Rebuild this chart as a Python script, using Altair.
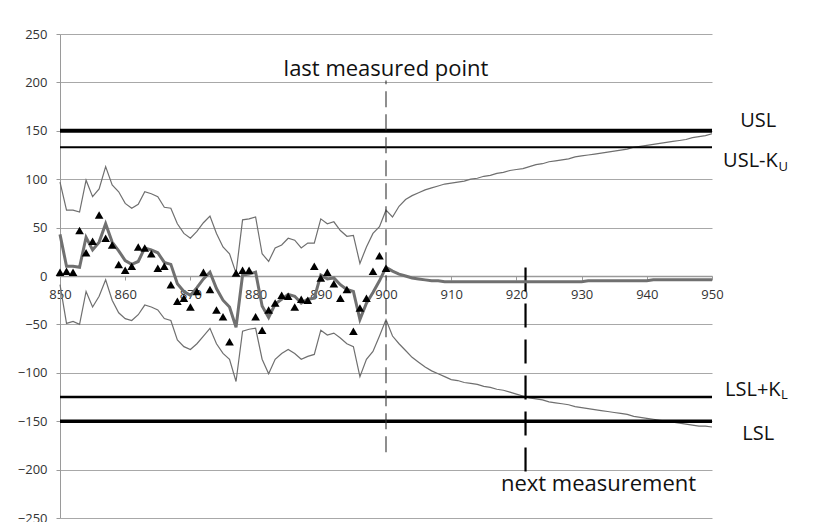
import altair as alt
import pandas as pd

# ---------------- data ----------------
X_MEAS = list(range(850, 901))
MEASURED = [4, 5, 4, 47, 24, 36, 63, 39, 32, 12,
            6, 10, 30, 29, 23, 8, 10, -9, -26, -23,
            -32, -16, 4, -14, -35, -42, -68, 3, 6, 6,
            -42, -56, -35, -28, -20, -21, -32, -24, -25, 10,
            -2, 4, -8, -23, -14, -57, -33, -23, 5, 21, 8]

X_ALL = list(range(850, 951))
CENTER = [43, 10, 10, 9, 40, 27, 35, 54, 35, 26,
          16, 12, 15, 29, 27, 24, 14, 12, -8, -16,
          -20, -12, -3, 4, -13, -25, -32, -53, 1, 2,
          4, -31, -43, -29, -24, -19, -21, -28, -24, -23,
          1, -3, -2, -9, -14, -16, -45, -28, -17, -5, 9,
          5, 2, 0, -2, -3, -4, -5, -5, -6, -6,
          -6, -6, -6, -6, -6, -6, -6, -6, -6, -6,
          -6, -6, -6, -6, -6, -6, -6, -6, -6, -6,
          -5, -5, -5, -5, -5, -5, -5, -5, -5, -5,
          -4, -4, -4, -4, -4, -4, -4, -4, -4, -4]
UPPER = [97, 68, 68, 66, 99, 82, 90, 113, 94, 87,
         75, 70, 74, 87, 85, 82, 71, 70, 54, 44,
         39, 46, 55, 62, 44, 30, 23, 3, 58, 59,
         61, 23, 15, 29, 32, 39, 37, 29, 34, 34,
         59, 54, 56, 47, 41, 42, 13, 30, 44, 51, 68,
         61, 72, 79, 83, 86, 89, 91, 93, 95, 96,
         97, 98, 100, 101, 103, 104, 106, 107, 109, 110,
         111, 113, 115, 116, 118, 119, 120, 121, 123, 124,
         125, 126, 127, 128, 129, 130, 131, 133, 134, 135,
         136, 137, 138, 139, 140, 141, 143, 144, 145, 147]
LOWER = [-9, -49, -47, -50, -16, -32, -21, -4, -25, -38,
         -44, -46, -40, -30, -32, -35, -44, -46, -66, -73,
         -76, -70, -62, -54, -70, -80, -86, -109, -57, -55,
         -54, -86, -101, -86, -80, -76, -80, -86, -83, -81,
         -56, -61, -59, -64, -70, -73, -104, -86, -78, -62, -45,
         -62, -70, -77, -84, -89, -94, -98, -101, -104, -107,
         -108, -110, -111, -112, -114, -115, -117, -118, -120, -122,
         -124, -126, -127, -128, -130, -131, -132, -133, -135, -136,
         -137, -138, -139, -140, -141, -142, -143, -145, -146, -147,
         -148, -149, -150, -151, -152, -153, -154, -155, -155, -156]

LIMIT_VALUES = [150, 133, -125, -150]   # USL, USL-KU, LSL+KL, LSL
LAST_MEASURED_X = 900
NEXT_MEASUREMENT_X = 921.4
X_TICKS = [850, 860, 870, 880, 890, 900, 910, 920, 930, 940, 950]
Y_TICKS = [-250, -200, -150, -100, -50, 0, 50, 100, 150, 200, 250]

# ---------------- chart ----------------
FONT = "Open Sans"
xs = alt.Scale(domain=[850, 950], nice=False, zero=False)
ys = alt.Scale(domain=[-250, 250], nice=False, zero=False)

all_df = pd.DataFrame({"x": X_ALL, "center": CENTER, "upper": UPPER, "lower": LOWER})
meas_df = pd.DataFrame({"x": X_MEAS, "m": MEASURED})

x_axis = alt.Axis(values=X_TICKS, offset=-242, grid=False, title=None,
                  domainColor="#9a9a9a", domainWidth=1.5, tickColor="#9a9a9a",
                  tickSize=4, labelFont=FONT, labelFontSize=13, labelColor="#333333",
                  labelPadding=8, labelFlush=False)
y_axis = alt.Axis(values=Y_TICKS, grid=True, gridColor="#a8a8a8", gridWidth=1,
                  title=None, domainColor="#9a9a9a", tickColor="#9a9a9a", tickSize=4,
                  labelFont=FONT, labelFontSize=13, labelColor="#333333",
                  labelPadding=9, labelFlush=False)

base = alt.Chart(all_df)

upper_line = base.mark_line(color="#6f6f6f", strokeWidth=1.2).encode(
    x=alt.X("x:Q", scale=xs, axis=x_axis),
    y=alt.Y("upper:Q", scale=ys, axis=y_axis))
lower_line = base.mark_line(color="#6f6f6f", strokeWidth=1.2).encode(
    x=alt.X("x:Q", scale=xs), y=alt.Y("lower:Q", scale=ys))
center_line = base.mark_line(color="#707070", strokeWidth=3).encode(
    x=alt.X("x:Q", scale=xs), y=alt.Y("center:Q", scale=ys))

points = alt.Chart(meas_df).mark_point(shape="triangle-up", filled=True,
                                       color="#000000", size=75, opacity=1).encode(
    x=alt.X("x:Q", scale=xs), y=alt.Y("m:Q", scale=ys))

limit_widths = [4, 2, 2.5, 3.5]
limit_layers = []
for val, w in zip(LIMIT_VALUES, limit_widths):
    limit_layers.append(
        alt.Chart(pd.DataFrame({"y": [val]})).mark_rule(color="#000000", strokeWidth=w)
        .encode(y=alt.Y("y:Q", scale=ys)))

last_rule = alt.Chart(pd.DataFrame({"x": [LAST_MEASURED_X], "y1": [-182], "y2": [202]})).mark_rule(
    color="#333333", strokeWidth=1.1, strokeDash=[16, 7]).encode(
    x=alt.X("x:Q", scale=xs), y=alt.Y("y1:Q", scale=ys), y2="y2:Q")
next_rule = alt.Chart(pd.DataFrame({"x": [NEXT_MEASUREMENT_X], "y1": [-202], "y2": [18]})).mark_rule(
    color="#000000", strokeWidth=2.2, strokeDash=[24, 12]).encode(
    x=alt.X("x:Q", scale=xs), y=alt.Y("y1:Q", scale=ys), y2="y2:Q")


def label(text, x, y, size, align="center"):
    return alt.Chart(pd.DataFrame({"x": [x], "y": [y], "t": [text]})).mark_text(
        font=FONT, fontSize=size, color="#111111", align=align, baseline="alphabetic").encode(
        x=alt.X("x:Q", scale=xs), y=alt.Y("y:Q", scale=ys), text="t:N")


texts = [
    label("last measured point", 900, 207, 22),
    label("next measurement", 932.6, -222, 22),
    label("USL", 957.1, 154, 20),
    label("USL-K", 951.7, 112.5, 20, "left"),
    label("U", 960.2, 108.5, 13, "left"),
    label("LSL+K", 952.0, -123.7, 20, "left"),
    label("L", 960.6, -127.5, 13, "left"),
    label("LSL", 957.1, -169, 20),
]

chart = alt.layer(
    upper_line, lower_line, *limit_layers, last_rule, next_rule,
    center_line, points, *texts
).properties(
    width=652, height=484,
    autosize=alt.AutoSizeParams(type="none"),
    padding={"left": 52, "top": 26, "right": 100, "bottom": 10},
    background="#ffffff",
).configure_view(stroke=None)

chart.save("out.html", embed_options={"renderer": "svg", "actions": False})
